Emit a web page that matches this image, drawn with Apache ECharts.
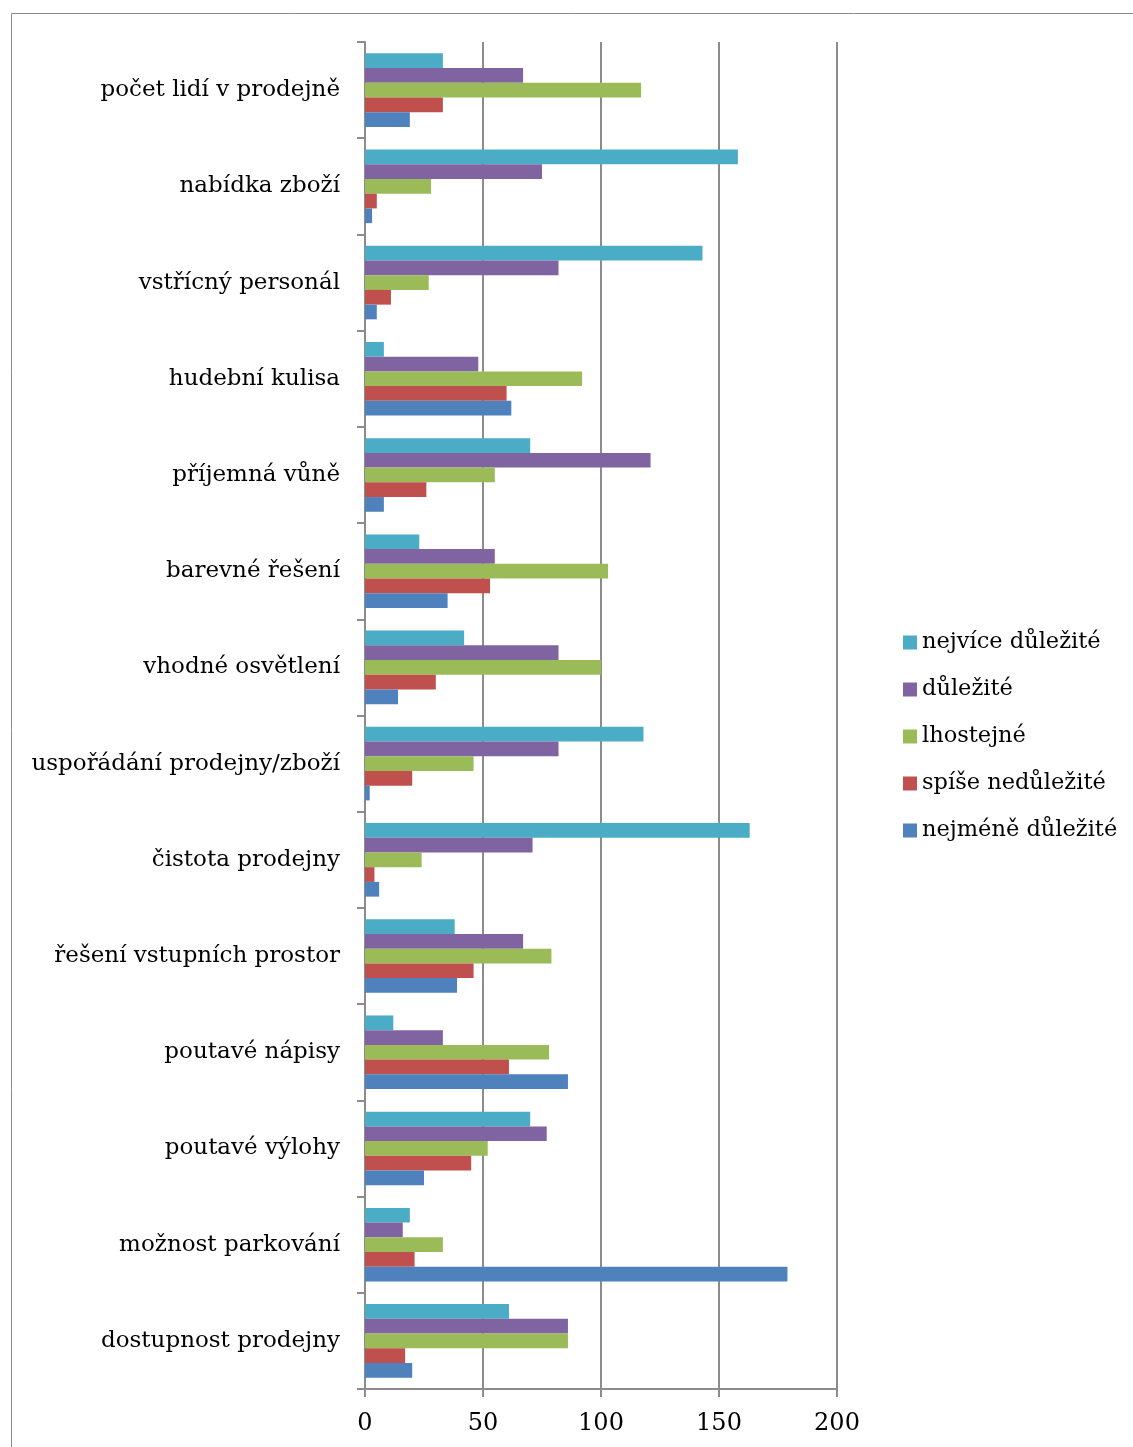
<!DOCTYPE html>
<html>
<head>
<meta charset="utf-8">
<script src="https://cdn.jsdelivr.net/npm/echarts@6/dist/echarts.min.js"></script>
<style>
  html, body { margin: 0; padding: 0; background: #fff; }
  #chart { width: 1133px; height: 1447px; }
</style>
</head>
<body>
<div id="chart"></div>
<script>
// Factors of a shop's attractiveness, counts of respondents per importance level
const categories = [
  'počet lidí v prodejně',
  'nabídka zboží',
  'vstřícný personál',
  'hudební kulisa',
  'příjemná vůně',
  'barevné řešení',
  'vhodné osvětlení',
  'uspořádání prodejny/zboží',
  'čistota prodejny',
  'řešení vstupních prostor',
  'poutavé nápisy',
  'poutavé výlohy',
  'možnost parkování',
  'dostupnost prodejny'
];

const nejviceDulezite   = [33, 158, 143,  8,  70,  23,  42, 118, 163, 38, 12, 70, 19, 61];
const dulezite          = [67,  75,  82, 48, 121,  55,  82,  82,  71, 67, 33, 77, 16, 86];
const lhostejne         = [117, 28,  27, 92,  55, 103, 100,  46,  24, 79, 78, 52, 33, 86];
const spiseNedulezite   = [33,   5,  11, 60,  26,  53,  30,  20,   4, 46, 61, 45, 21, 17];
const nejmeneDulezite   = [19,   3,   5, 62,   8,  35,  14,   2,   6, 39, 86, 25, 179, 20];

const xTicks = [0, 50, 100, 150, 200];

const seriesNames = ['nejvíce důležité', 'důležité', 'lhostejné', 'spíše nedůležité', 'nejméně důležité'];
const seriesData = [nejviceDulezite, dulezite, lhostejne, spiseNedulezite, nejmeneDulezite];
const seriesColors = ['#4BACC6', '#8064A2', '#9BBB59', '#C0504D', '#4F81BD'];

const FONT = 'DejaVu Serif';
const AXIS_GRAY = '#8c8c8c';

const chart = echarts.init(document.getElementById('chart'), null, { renderer: 'canvas' });

chart.setOption({
  animation: false,
  backgroundColor: '#fff',
  textStyle: { fontFamily: FONT, color: '#000' },
  graphic: [{
    type: 'rect',
    shape: { x: 11.5, y: 13.5, width: 1200, height: 1500 },
    style: { fill: 'none', stroke: AXIS_GRAY, lineWidth: 1 },
    silent: true
  }],
  grid: { left: 365, right: 296, top: 42, bottom: 58, containLabel: false },
  legend: {
    orient: 'vertical',
    left: 903,
    top: 631,
    icon: 'rect',
    itemWidth: 14,
    itemHeight: 14,
    itemGap: 24,
    padding: 0,
    data: seriesNames,
    textStyle: { fontFamily: FONT, fontSize: 22.5, color: '#000' }
  },
  xAxis: {
    type: 'value',
    min: xTicks[0],
    max: xTicks[xTicks.length - 1],
    interval: 50,
    axisLine: { show: true, lineStyle: { color: AXIS_GRAY, width: 2 } },
    axisTick: { show: true, length: 8, lineStyle: { color: AXIS_GRAY, width: 2 } },
    splitLine: { show: true, lineStyle: { color: AXIS_GRAY, width: 2 } },
    axisLabel: { fontFamily: FONT, fontSize: 24, color: '#000', margin: 23 }
  },
  yAxis: {
    type: 'category',
    inverse: true,
    data: categories,
    axisLine: { show: true, lineStyle: { color: AXIS_GRAY, width: 2 } },
    axisTick: { show: true, length: 8, lineStyle: { color: AXIS_GRAY, width: 2 } },
    splitLine: { show: false },
    axisLabel: { fontFamily: FONT, fontSize: 23, color: '#000', margin: 25, padding: [6, 0, 0, 0] }
  },
  series: seriesNames.map((name, i) => ({
    name: name,
    type: 'bar',
    data: seriesData[i],
    barGap: '0%',
    barCategoryGap: '23.5%',
    itemStyle: { color: seriesColors[i] }
  }))
});
</script>
</body>
</html>
